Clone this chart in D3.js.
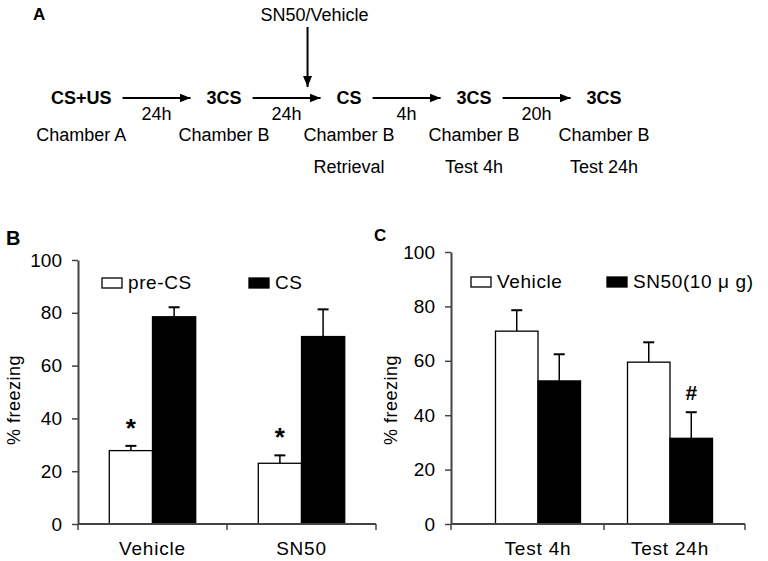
<!DOCTYPE html>
<html><head><meta charset="utf-8">
<script src="https://cdn.jsdelivr.net/npm/d3@7"></script>
<style>
html,body{margin:0;padding:0;background:#fff;}
svg{display:block;font-family:"Liberation Sans",Arial,Helvetica,sans-serif;}
</style>
</head><body>
<svg id="chart" width="768" height="561"></svg>
<script>
// ---------- Panel A: protocol timeline ----------
const stages = ["CS+US", "3CS", "CS", "3CS", "3CS"];
const intervals = ["24h", "24h", "4h", "20h"];
const chambers = ["Chamber A", "Chamber B", "Chamber B", "Chamber B", "Chamber B"];
const phases = ["", "", "Retrieval", "Test 4h", "Test 24h"];
const injectionLabel = "SN50/Vehicle";
const injectionBeforeStage = 2;

// ---------- Panel B ----------
const groupsB = ["Vehicle", "SN50"];
const seriesB = ["pre-CS", "CS"];
const preCSB = [27.8, 23.0];
const preCSErrB = [1.8, 3.0];
const csB = [78.5, 71.0];
const csErrB = [3.6, 10.3];
const sigB = [["*", ""], ["*", ""]]; // per group, per series

// ---------- Panel C ----------
const groupsC = ["Test 4h", "Test 24h"];
const seriesC = ["Vehicle", "SN50(10 \u03bc g)"];
const vehicleC = [70.9, 59.5];
const vehicleErrC = [7.7, 7.3];
const sn50C = [52.6, 31.5];
const sn50ErrC = [9.8, 9.6];
const sigC = [["", ""], ["", "#"]];

const yTicks = [0, 20, 40, 60, 80, 100];
const seriesFill = ["#ffffff", "#000000"];

const svg = d3.select("#chart");
svg.append("rect").attr("width", 768).attr("height", 561).attr("fill", "#fff");

const defs = svg.append("defs");
defs.append("marker").attr("id", "ah")
  .attr("viewBox", "0 0 11 9").attr("refX", 11).attr("refY", 4.5)
  .attr("markerWidth", 11).attr("markerHeight", 9)
  .attr("markerUnits", "userSpaceOnUse").attr("orient", "auto")
  .append("path").attr("d", "M0,0 L11,4.5 L0,9 Z").attr("fill", "#000");

// ===== Panel A =====
const A = svg.append("g");
A.append("text").attr("x", 33).attr("y", 20).attr("font-size", 17)
  .attr("font-weight", "bold").text("A");

const rowY = 104, arrowY = 98;
let cursor = 51;
const stageCenters = [], arrowSpans = [];
stages.forEach((s, i) => {
  const t = A.append("text").attr("x", cursor).attr("y", rowY)
    .attr("font-size", 18).attr("font-weight", "bold").text(s);
  const w = t.node().getComputedTextLength();
  stageCenters.push(cursor + w / 2);
  cursor += w;
  if (i < stages.length - 1) {
    const x0 = cursor + 11, x1 = x0 + 68;
    arrowSpans.push([x0, x1]);
    A.append("line").attr("x1", x0).attr("x2", x1).attr("y1", arrowY).attr("y2", arrowY)
      .attr("stroke", "#000").attr("stroke-width", 2).attr("marker-end", "url(#ah)");
    cursor = x1 + 16;
  }
});
intervals.forEach((t, i) => {
  A.append("text").attr("x", (arrowSpans[i][0] + arrowSpans[i][1]) / 2).attr("y", 120)
    .attr("text-anchor", "middle").attr("font-size", 18).text(t);
});
chambers.forEach((t, i) => {
  A.append("text").attr("x", stageCenters[i]).attr("y", 141)
    .attr("text-anchor", "middle").attr("font-size", 18).text(t);
});
phases.forEach((t, i) => {
  if (!t) return;
  A.append("text").attr("x", stageCenters[i]).attr("y", 173)
    .attr("text-anchor", "middle").attr("font-size", 18).text(t);
});
const injX = arrowSpans[injectionBeforeStage - 1][1] - 13;
A.append("line").attr("x1", injX).attr("x2", injX).attr("y1", 27).attr("y2", 87)
  .attr("stroke", "#000").attr("stroke-width", 2).attr("marker-end", "url(#ah)");
A.append("text").attr("x", injX + 7).attr("y", 21).attr("text-anchor", "middle")
  .attr("font-size", 18).text(injectionLabel);

// ===== Bar panels =====
function panel(o) {
  const g = svg.append("g");
  const y = d3.scaleLinear().domain([0, 100]).range([524, o.yTop]);
  const xg = d3.scaleBand().domain(o.groups).range(o.bandRange)
    .paddingInner(o.padIn).paddingOuter(o.padIn / 2);
  const xs = d3.scaleBand().domain(o.series).range([0, xg.bandwidth()]);
  const y0 = y(0);

  g.append("text").attr("x", o.letterX).attr("y", o.letterY).attr("font-size", o.letterSize)
    .attr("font-weight", "bold").text(o.letter);

  const ya = g.append("g").attr("transform", `translate(${o.axisX},0)`)
    .call(d3.axisLeft(y).tickValues(yTicks).tickSize(6).tickSizeOuter(0).tickPadding(10));
  ya.select(".domain").attr("stroke", "#444").attr("stroke-width", 2);
  ya.selectAll(".tick line").attr("stroke", "#444").attr("stroke-width", 1.5);
  ya.selectAll(".tick text").attr("font-size", 19).attr("fill", "#000")
    .attr("font-family", "'Liberation Sans',Arial,sans-serif");

  g.append("text").attr("transform", `translate(${o.yLabelX},400) rotate(-90)`)
    .attr("text-anchor", "middle").attr("font-size", 18).attr("letter-spacing", 0.5)
    .text("% freezing");

  o.series.forEach((s, j) => {
    o.groups.forEach((grp, i) => {
      const v = o.values[j][i], e = o.errors[j][i];
      const bx = xg(grp) + xs(s), bw = xs.bandwidth(), cx = bx + bw / 2;
      g.append("line").attr("x1", cx).attr("x2", cx).attr("y1", y(v)).attr("y2", y(v + e))
        .attr("stroke", "#000").attr("stroke-width", 1.5);
      g.append("line").attr("x1", cx - 5.5).attr("x2", cx + 5.5).attr("y1", y(v + e)).attr("y2", y(v + e))
        .attr("stroke", "#000").attr("stroke-width", 2);
      g.append("rect").attr("x", bx).attr("y", y(v)).attr("width", bw).attr("height", y0 - y(v))
        .attr("fill", seriesFill[j]).attr("stroke", "#000").attr("stroke-width", 1.3);
      const sg = o.sig[i][j];
      if (sg) {
        g.append("text").attr("x", cx).attr("y", y(v + e) - o.sigGap)
          .attr("text-anchor", "middle").attr("font-size", sg === "*" ? 26 : 21)
          .attr("font-weight", "bold").text(sg);
      }
    });
  });

  g.append("line").attr("x1", o.axisX).attr("x2", o.axisEnd).attr("y1", y0).attr("y2", y0)
    .attr("stroke", "#444").attr("stroke-width", 2);
  const bounds = [o.axisX, (xg(o.groups[0]) + xg.bandwidth() + xg(o.groups[1])) / 2, o.axisEnd];
  bounds.forEach(bx => {
    g.append("line").attr("x1", bx).attr("x2", bx).attr("y1", y0).attr("y2", y0 + 6)
      .attr("stroke", "#444").attr("stroke-width", 1.5);
  });
  o.groups.forEach(grp => {
    g.append("text").attr("x", xg(grp) + xg.bandwidth() / 2).attr("y", 555)
      .attr("text-anchor", "middle").attr("font-size", 19).attr("letter-spacing", 0.8).text(grp);
  });

  o.series.forEach((s, j) => {
    const lx = o.legendX[j];
    g.append("rect").attr("x", lx).attr("y", o.legendY).attr("width", 20).attr("height", 10)
      .attr("fill", seriesFill[j]).attr("stroke", "#000").attr("stroke-width", 1.3);
    g.append("text").attr("x", lx + 26).attr("y", o.legendY + 11).attr("font-size", 19)
      .attr("letter-spacing", 0.6).text(s);
  });
}

panel({
  letter: "B", letterX: 6, letterY: 245, letterSize: 20,
  groups: groupsB, series: seriesB,
  values: [preCSB, csB], errors: [preCSErrB, csErrB], sig: sigB, sigGap: 9,
  yTop: 260, axisX: 78, axisEnd: 376, bandRange: [78, 376], padIn: 0.42,
  yLabelX: 20, legendX: [102, 249], legendY: 278
});
panel({
  letter: "C", letterX: 374, letterY: 241, letterSize: 17,
  groups: groupsC, series: seriesC,
  values: [vehicleC, sn50C], errors: [vehicleErrC, sn50ErrC], sig: sigC, sigGap: 12,
  yTop: 252, axisX: 451, axisEnd: 745, bandRange: [472, 736], padIn: 0.356,
  yLabelX: 397, legendX: [471, 607], legendY: 277
});
</script>
</body></html>
